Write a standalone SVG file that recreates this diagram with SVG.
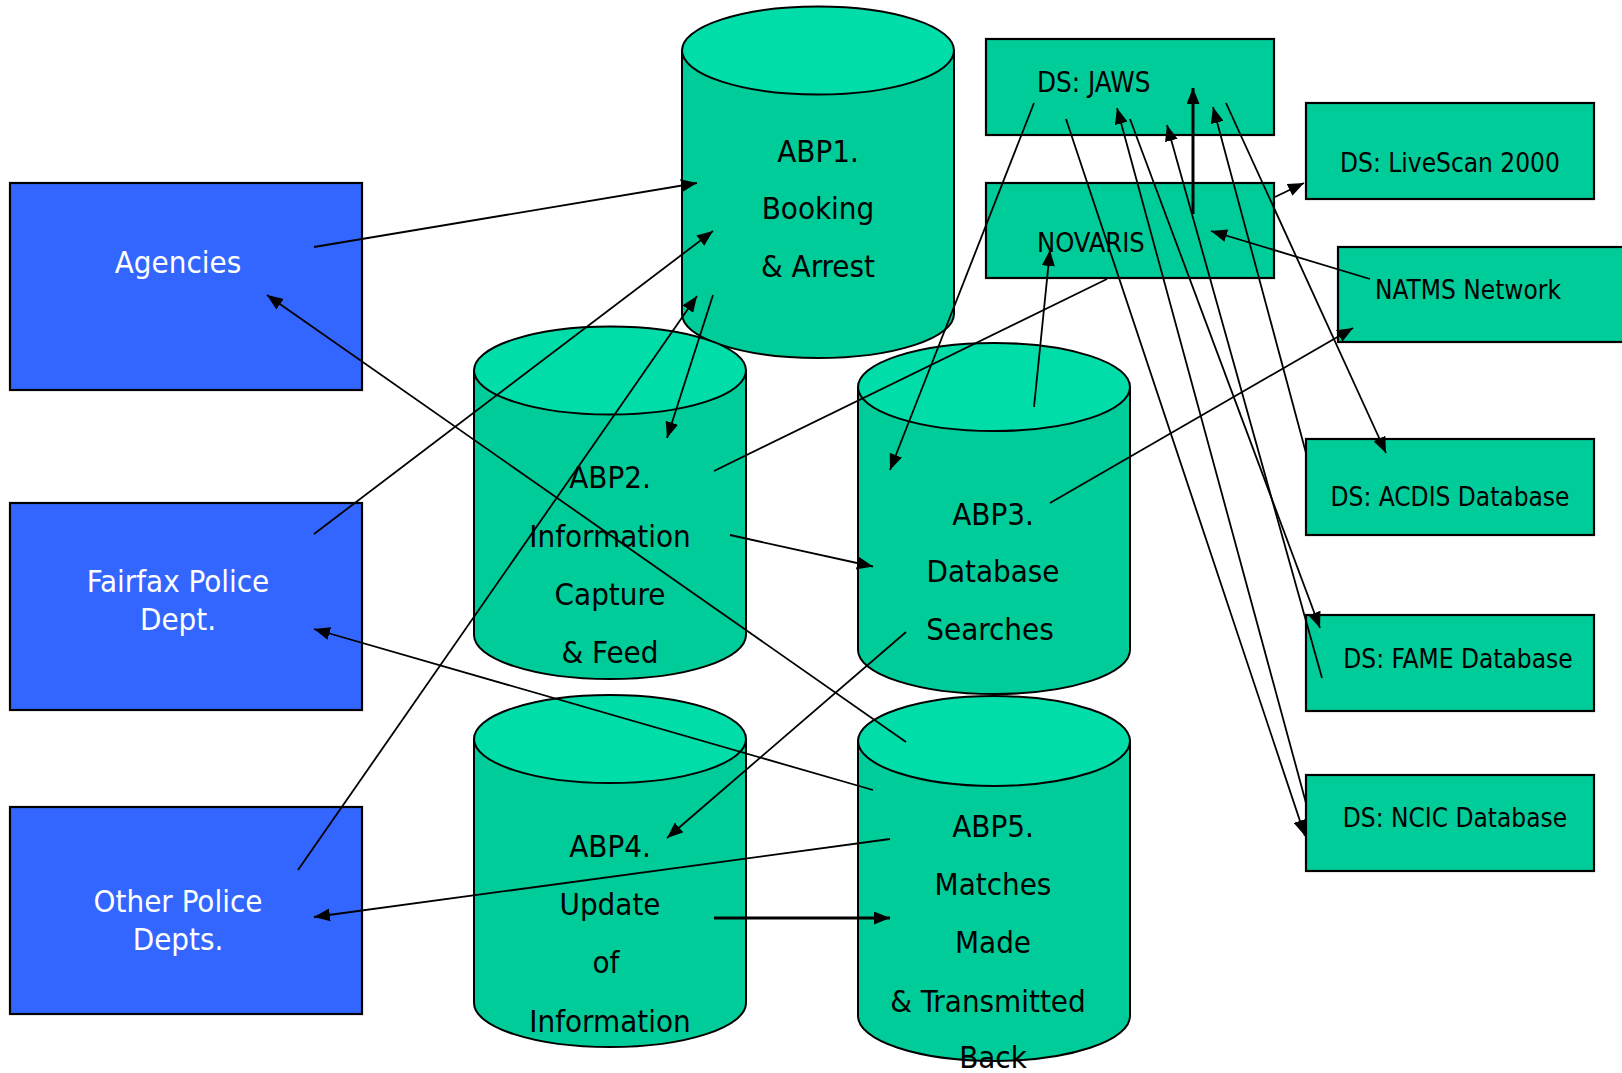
<svg xmlns="http://www.w3.org/2000/svg" width="1622" height="1073" viewBox="0 0 1622 1073">
<style>
.box{stroke:#000;stroke-width:2.2}
.blue{fill:#3366FF}
.green{fill:#00CC99}
.body{fill:#00CC99;stroke:#000;stroke-width:2}
.top{fill:#00DDA8;stroke:#000;stroke-width:2}
.big{font-family:'DejaVu Sans Condensed','DejaVu Sans',sans-serif;font-size:31px;text-anchor:middle}
.wt{fill:#fff}
.bt{fill:#000}
.sm{font-family:'DejaVu Sans Condensed','DejaVu Sans',sans-serif;font-size:26px;fill:#000}
.ln{stroke:#000;stroke-width:1.8;fill:none}
.thk{stroke:#000;stroke-width:3;fill:none}
</style>
<defs>
<marker id="ah" viewBox="0 0 16 13" refX="16" refY="6.5" markerWidth="16" markerHeight="13" markerUnits="userSpaceOnUse" orient="auto"><path d="M0,0 L16,6.5 L0,13 z" fill="#000"/></marker>
</defs>
<rect width="1622" height="1073" fill="#fff"/>

<g id="agencies">
<rect class="box blue" x="10" y="183" width="352" height="207"/>
<text class="big wt" x="178" y="273">Agencies</text>
</g>
<g id="fairfax">
<rect class="box blue" x="10" y="503" width="352" height="207"/>
<text class="big wt" x="178" y="592">Fairfax Police</text>
<text class="big wt" x="178" y="630">Dept.</text>
</g>
<g id="other">
<rect class="box blue" x="10" y="807" width="352" height="207"/>
<text class="big wt" x="178" y="912">Other Police</text>
<text class="big wt" x="178" y="950">Depts.</text>
</g>

<g id="abp1">
<path class="body" d="M682,50.5 V314 A136,44 0 0 0 954,314 V50.5 Z"/>
<ellipse class="top" cx="818" cy="50.5" rx="136" ry="44"/>
<text class="big bt" x="818" y="162">ABP1.</text>
<text class="big bt" x="818" y="219">Booking</text>
<text class="big bt" x="818" y="277">&amp; Arrest</text>
</g>
<g id="abp2">
<path class="body" d="M474,370.5 V635 A136,44 0 0 0 746,635 V370.5 Z"/>
<ellipse class="top" cx="610" cy="370.5" rx="136" ry="44"/>
<text class="big bt" x="610" y="488">ABP2.</text>
<text class="big bt" x="610" y="547">Information</text>
<text class="big bt" x="610" y="605">Capture</text>
<text class="big bt" x="610" y="663">&amp; Feed</text>
</g>
<g id="abp3">
<path class="body" d="M858,387 V650 A136,44 0 0 0 1130,650 V387 Z"/>
<ellipse class="top" cx="994" cy="387" rx="136" ry="44"/>
<text class="big bt" x="993" y="525">ABP3.</text>
<text class="big bt" x="993" y="582">Database</text>
<text class="big bt" x="990" y="640">Searches</text>
</g>
<g id="abp4">
<path class="body" d="M474,739 V1003 A136,44 0 0 0 746,1003 V739 Z"/>
<ellipse class="top" cx="610" cy="739" rx="136" ry="44"/>
<text class="big bt" x="610" y="857">ABP4.</text>
<text class="big bt" x="610" y="915">Update</text>
<text class="big bt" x="606" y="973">of</text>
<text class="big bt" x="610" y="1032">Information</text>
</g>
<g id="abp5">
<path class="body" d="M858,741 V1016 A136,45 0 0 0 1130,1016 V741 Z"/>
<ellipse class="top" cx="994" cy="741" rx="136" ry="45"/>
<text class="big bt" x="993" y="837">ABP5.</text>
<text class="big bt" x="993" y="895">Matches</text>
<text class="big bt" x="993" y="953">Made</text>
<text class="big bt" x="988" y="1012">&amp; Transmitted</text>
<text class="big bt" x="993" y="1068">Back</text>
</g>

<g id="jaws">
<rect class="box green" x="986" y="39" width="288" height="96"/>
<text class="sm" x="1037" y="92" style="font-size:27.5px">DS: JAWS</text>
</g>
<g id="novaris">
<rect class="box green" x="986" y="183" width="288" height="95"/>
<text class="sm" x="1037" y="252" style="font-size:27px">NOVARIS</text>
</g>
<g id="livescan">
<rect class="box green" x="1306" y="103" width="288" height="96"/>
<text class="sm" x="1450" y="172" text-anchor="middle">DS: LiveScan 2000</text>
</g>
<g id="natms">
<rect class="box green" x="1338" y="247" width="300" height="95"/>
<text class="sm" x="1468" y="299" text-anchor="middle">NATMS Network</text>
</g>
<g id="acdis">
<rect class="box green" x="1306" y="439" width="288" height="96"/>
<text class="sm" x="1450" y="506" text-anchor="middle">DS: ACDIS Database</text>
</g>
<g id="fame">
<rect class="box green" x="1306" y="615" width="288" height="96"/>
<text class="sm" x="1458" y="668" text-anchor="middle">DS: FAME Database</text>
</g>
<g id="ncic">
<rect class="box green" x="1306" y="775" width="288" height="96"/>
<text class="sm" x="1455" y="827" text-anchor="middle">DS: NCIC Database</text>
</g>

<g id="connectors">
<line class="ln" x1="314" y1="247" x2="697" y2="183" marker-end="url(#ah)"/>
<line class="ln" x1="314" y1="534" x2="713" y2="231" marker-end="url(#ah)"/>
<line class="ln" x1="298" y1="870" x2="697" y2="296" marker-end="url(#ah)"/>
<line class="ln" x1="713" y1="295" x2="667" y2="438" marker-end="url(#ah)"/>
<line class="ln" x1="714" y1="471" x2="1107" y2="279"/>
<line class="ln" x1="730" y1="535" x2="873" y2="566.5" marker-end="url(#ah)"/>
<line class="ln" x1="1034" y1="407" x2="1050" y2="250" marker-end="url(#ah)"/>
<line class="ln" x1="1034" y1="103" x2="890" y2="470" marker-end="url(#ah)"/>
<line class="ln" x1="1050" y1="503" x2="1353" y2="328" marker-end="url(#ah)"/>
<line class="ln" x1="906" y1="632" x2="667" y2="838" marker-end="url(#ah)"/>
<line class="ln" x1="906" y1="742" x2="267" y2="295" marker-end="url(#ah)"/>
<line class="ln" x1="873" y1="790" x2="314" y2="629" marker-end="url(#ah)"/>
<line class="ln" x1="890" y1="839" x2="314" y2="917" marker-end="url(#ah)"/>
<line class="thk" x1="714" y1="918" x2="890" y2="918" marker-end="url(#ah)"/>
<line class="thk" x1="1193" y1="214" x2="1193" y2="88" marker-end="url(#ah)"/>
<line class="ln" x1="1275" y1="197" x2="1304" y2="183" marker-end="url(#ah)"/>
<line class="ln" x1="1370" y1="279" x2="1211" y2="231" marker-end="url(#ah)"/>
<line class="ln" x1="1066" y1="119" x2="1305" y2="836" marker-end="url(#ah)"/>
<line class="ln" x1="1306" y1="803" x2="1117" y2="108" marker-end="url(#ah)"/>
<line class="ln" x1="1130" y1="119" x2="1320" y2="628" marker-end="url(#ah)"/>
<line class="ln" x1="1322" y1="678" x2="1167" y2="125" marker-end="url(#ah)"/>
<line class="ln" x1="1306" y1="453" x2="1213" y2="107" marker-end="url(#ah)"/>
<line class="ln" x1="1226" y1="103" x2="1386" y2="453" marker-end="url(#ah)"/>
</g>
</svg>
